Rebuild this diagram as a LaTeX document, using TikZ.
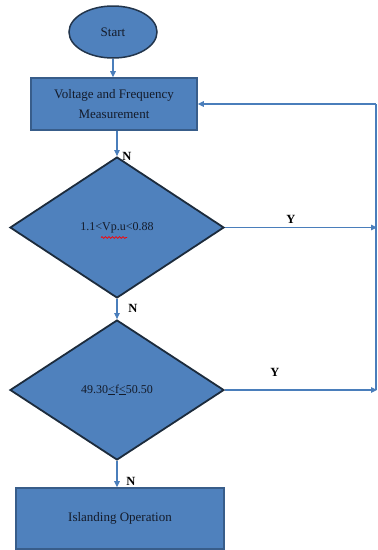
\documentclass[tikz,border=0pt]{standalone}
\usepackage{fontspec}
\setmainfont{Liberation Serif}
\usetikzlibrary{shapes.geometric,arrows.meta,decorations.pathmorphing}
\definecolor{boxfill}{HTML}{4F81BD}
\definecolor{boxline}{HTML}{385D8A}
\definecolor{dline}{HTML}{1C2B3C}
\definecolor{conn}{HTML}{4A7EBB}
\definecolor{txt}{HTML}{141B2A}
\tikzset{
  boxshape/.style={rectangle,fill=boxfill,draw=boxline,line width=1.6pt,inner sep=0pt,text=txt,font=\fontsize{13}{20}\selectfont,align=center},
  startshape/.style={ellipse,fill=boxfill,draw=dline!80!boxline,line width=1.5pt,inner sep=0pt,text=txt,font=\fontsize{13}{15}\selectfont},
  decshape/.style={diamond,fill=boxfill,draw=dline,line width=1.8pt,inner sep=0pt,text=txt,font=\fontsize{12}{14}\selectfont},
  flow/.style={draw=conn,line width=1.2pt,-{Triangle[length=6pt,width=5.5pt]}},
  plainline/.style={draw=conn,line width=1.2pt},
  yn/.style={font=\bfseries\fontsize{12.5}{14}\selectfont,text=black,inner sep=0pt}
}
\begin{document}
\begin{tikzpicture}[x=1pt,y=-1pt]
\useasboundingbox (0,0) rectangle (378,550);
\node[startshape,minimum width=88pt,minimum height=52pt] (start) at (113,32) {Start};
\node[boxshape,minimum width=166pt,minimum height=52pt] (meas) at (114,104) {Voltage and Frequency\\Measurement};
\node[decshape,minimum width=214pt,minimum height=141pt] (d1) at (117,227.5) {1.1<Vp.u<0.88};
\node[decshape,minimum width=214pt,minimum height=140pt] (d2) at (117,390) {49.30\underline{<}f\underline{<}50.50};
\node[boxshape,minimum width=208pt,minimum height=61pt] (isl) at (120,518.5) {Islanding Operation};
\coordinate (r1) at (377,227.5);
\coordinate (r2) at (377,390);
\coordinate (rtop) at (376,104);
\coordinate (rbot) at (376,390);
% red wavy spell-check underline
\coordinate (w1) at (101,237.5);
\coordinate (w2) at (127,237.5);
\draw[red,line width=0.7pt,decorate,decoration={snake,amplitude=0.9pt,segment length=3.5pt}] (w1) -- (w2);
\draw[flow] (start.south) -- (meas.north -| start.south);
\draw[flow] (meas.south -| d1.north) -- (d1.north);
\draw[flow] (d1.south) -- (d2.north);
\draw[flow] (d2.south) -- (d2.south |- isl.north);
\draw[flow] (d1.east) -- (r1);
\draw[flow] (d2.east) -- (r2);
\draw[plainline] (rbot) -- (rtop);
\draw[flow] (rtop) -- (meas.east);
\node[yn] (n1) at (127,156) {N};
\node[yn] (n2) at (133,308) {N};
\node[yn] (n3) at (131,481) {N};
\node[yn] (y1) at (291,219) {Y};
\node[yn] (y2) at (275,372) {Y};
\end{tikzpicture}
\end{document}
